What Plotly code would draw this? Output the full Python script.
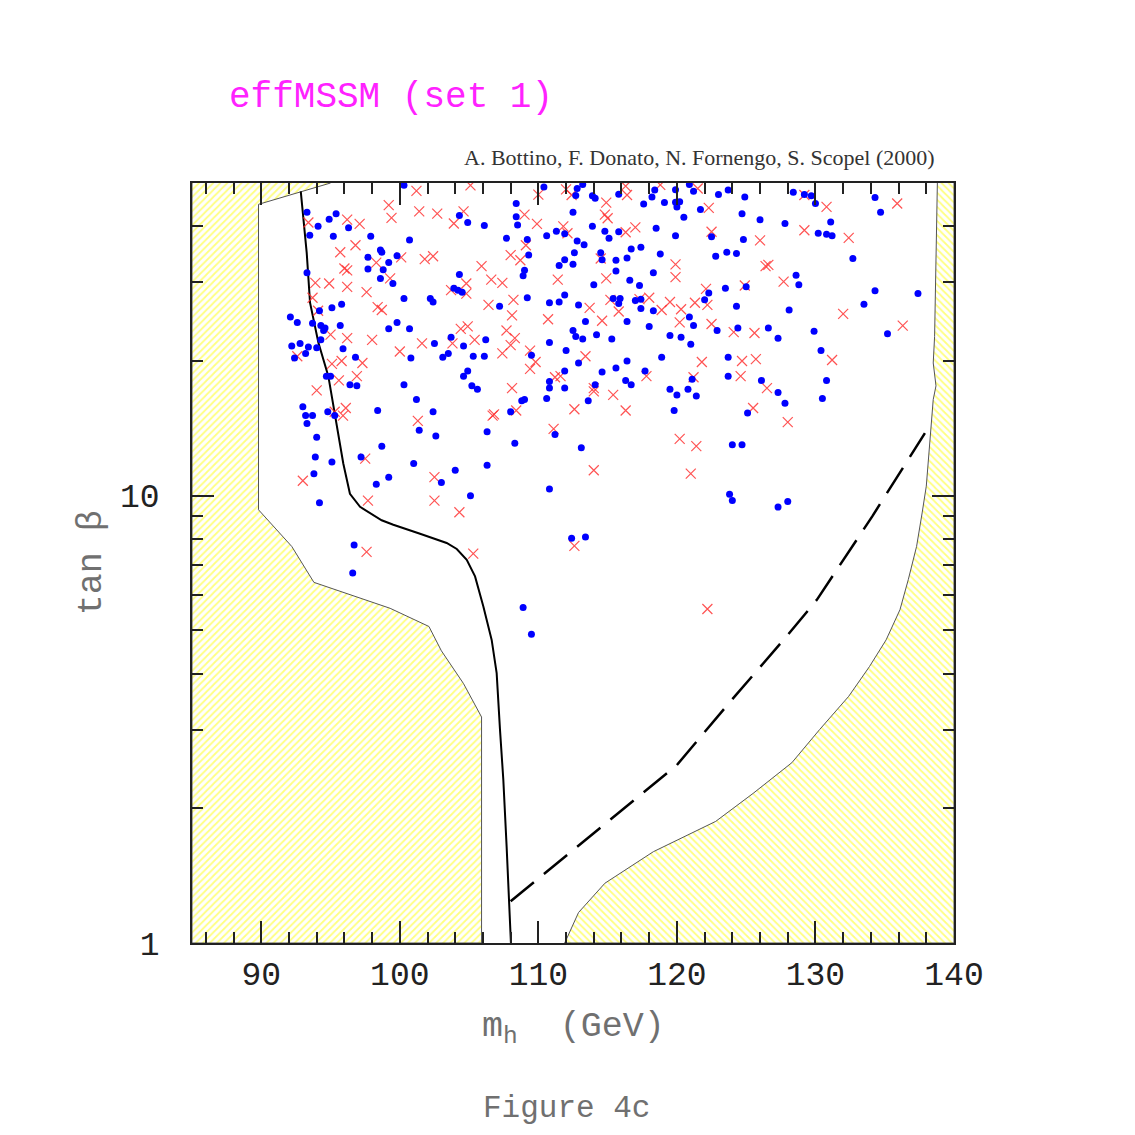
import plotly.graph_objects as go

# ---------------- data ----------------
# excluded region (left, hatched): boundary m_h (GeV), tan beta
left_m = [95.0, 89.8, 89.8, 92.2, 93.8, 99.3, 102.1, 103.0, 104.6, 105.9, 105.9]
left_t = [50.0, 44.8, 9.3, 7.7, 6.4, 5.6, 5.1, 4.5, 3.8, 3.2, 1.0]

# excluded region (right, hatched)
right_m = [138.8, 138.7, 138.6, 138.5, 138.7, 138.5, 138.3, 138.0, 137.7, 137.3, 136.7,
           136.1, 135.1, 133.9, 132.4, 130.3, 128.3, 125.5, 122.8, 118.3, 114.8, 112.9, 111.9]
right_t = [50.0, 30.4, 22.7, 19.8, 17.6, 16.4, 13.6, 10.5, 9.15, 7.70, 6.49,
           5.56, 4.76, 4.15, 3.56, 3.00, 2.53, 2.16, 1.87, 1.60, 1.36, 1.17, 1.0]

# solid curve
solid_m = [92.85, 93.28, 93.52, 94.12, 94.84, 95.44, 95.92, 96.40, 97.13, 98.69, 99.53, 101.46,
           103.38, 104.11, 104.83, 105.43, 106.03, 106.63, 106.99, 107.23, 107.47, 107.71, 108.02]
solid_t = [47.9, 34.9, 27.0, 22.0, 18.5, 14.5, 11.8, 10.1, 9.44, 8.81, 8.61, 8.22,
           7.84, 7.60, 7.19, 6.60, 5.65, 4.76, 4.01, 3.00, 2.32, 1.64, 1.0]

# dashed curve
dash_m = [108.0, 111.6, 120.0, 123.8, 127.9, 130.1, 134.1, 137.9]
dash_t = [1.24, 1.53, 2.50, 3.45, 4.84, 5.85, 8.99, 13.8]

# blue dots
blue_m = [100.3, 93.3, 95.4, 94.9, 94.1, 96.3, 93.5, 95.2, 97.9, 100.7, 104.3, 104.9, 106.1, 98.6, 98.7,
          97.7, 99.8, 99.2, 97.7, 98.8, 98.6, 99.5, 93.3, 104.3, 103.9, 104.2, 104.5, 100.3, 102.2, 102.4,
          95.1, 95.8, 94.2, 92.1, 92.6, 93.7, 94.3, 94.5, 94.6, 95.7, 99.8, 99.2, 100.7, 103.7, 106.2,
          102.5, 104.6, 92.2, 92.8, 93.4, 94.0, 94.3, 95.9, 107.2,
          110.4, 112.8, 113.2, 112.7, 113.9, 114.1, 115.8, 118.4, 118.2, 117.6, 119.1, 119.9, 119.9, 120.2,
          120.0, 120.9, 121.2, 123.0, 121.7, 120.5, 108.4, 108.4, 108.5, 112.5, 107.7, 109.2, 110.6, 111.3,
          111.9, 112.8, 113.3, 113.9, 114.8, 115.1, 115.8, 118.5, 119.9, 122.5, 109.3, 112.6, 114.5, 114.6,
          111.9, 111.5, 112.5, 115.6, 116.4, 116.7, 117.4, 118.8, 122.8, 109.0, 108.9, 115.6, 118.3, 114.0,
          116.6, 117.3, 111.9, 109.2, 110.8, 111.5, 112.9, 115.4, 115.9, 115.8, 117.0, 117.4, 117.4, 118.3,
          122.0, 122.3, 113.4, 116.4, 118.0, 120.9, 121.2, 122.9, 112.5, 112.7, 113.2, 114.2, 115.3, 119.5,
          120.3, 121.0, 110.8,
          123.7, 124.9, 128.4, 129.2, 129.7, 130.0, 134.3, 134.7, 124.7, 126.0, 127.8, 131.1, 130.2, 130.8,
          131.2, 124.8, 123.6, 124.3, 132.7, 128.6, 128.8, 123.5, 125.0, 134.3, 137.4, 124.3, 128.1, 133.5,
          124.4, 126.6, 127.3, 129.9, 135.2,
          92.4, 93.2, 96.8, 100.8, 103.1, 103.5, 105.3, 106.1, 94.7, 95.0, 96.4, 96.9, 100.3, 104.6, 104.9,
          105.2, 105.6, 93.0, 93.2, 93.7, 93.3, 94.8, 95.3, 98.4, 101.2, 102.4, 101.4, 102.6, 106.3, 94.0,
          98.7, 93.9, 95.1, 97.2, 101.0, 104.0, 106.3, 93.8, 99.2, 98.3, 103.0, 105.1, 94.2,
          109.5, 112.0, 112.9, 116.4, 118.9, 114.6, 115.6, 117.7, 111.9, 110.8, 110.8, 111.9, 114.1, 116.3,
          116.7, 121.1, 119.5, 120.0, 120.8, 121.4, 110.6, 108.8, 109.0, 108.0, 113.6, 119.8, 111.2, 108.3,
          113.1, 110.8,
          123.7, 130.4, 123.7, 126.1, 127.3, 127.8, 125.1, 130.8, 130.5, 124.0, 124.7, 123.8, 124.0, 127.3,
          128.0,
          96.7, 96.6, 108.9, 109.5, 112.4, 113.4]
blue_t = [49.4, 43.0, 42.7, 41.5, 40.0, 39.7, 38.2, 38.0, 38.0, 37.3, 42.3, 40.8, 40.2, 35.4, 35.0,
          34.1, 34.4, 33.2, 32.1, 32.0, 30.6, 29.8, 31.5, 31.2, 29.1, 28.8, 28.5, 27.6, 27.6, 27.1,
          26.3, 26.8, 25.9, 25.1, 24.4, 24.3, 24.0, 23.4, 23.7, 24.0, 24.4, 23.6, 23.6, 22.6, 22.3,
          21.9, 21.6, 21.6, 21.9, 21.5, 21.4, 22.3, 21.3, 26.5,
          49.0, 48.6, 49.6, 46.9, 46.8, 46.2, 47.2, 48.2, 46.5, 44.9, 45.2, 48.3, 45.3, 45.4,
          44.2, 49.6, 47.9, 47.1, 43.6, 41.9, 45.0, 42.0, 40.3, 43.0, 37.6, 37.4, 38.1, 39.0,
          38.5, 37.1, 36.4, 40.0, 39.0, 37.6, 38.9, 39.6, 38.1, 37.9, 34.5, 34.9, 34.9, 33.7,
          33.7, 32.7, 32.9, 33.6, 34.0, 35.6, 35.9, 34.7, 34.3, 31.9, 31.0, 31.8, 31.5, 29.6,
          30.3, 29.5, 28.1, 27.7, 27.0, 27.1, 26.7, 27.6, 27.6, 26.9, 27.3, 27.5, 26.2, 25.9,
          27.4, 28.4, 24.5, 24.5, 23.9, 25.1, 24.0, 23.4, 23.4, 22.7, 22.4, 22.9, 22.4, 22.8,
          22.6, 21.8, 22.0,
          48.2, 46.5, 47.7, 47.1, 46.8, 45.0, 46.4, 43.0, 42.7, 41.4, 40.6, 40.9, 38.6, 38.4,
          38.1, 37.4, 35.0, 34.8, 33.9, 31.1, 29.6, 29.1, 29.3, 28.7, 28.3, 26.5, 26.0, 26.8,
          23.7, 23.7, 22.5, 23.3, 23.0,
          20.3, 20.8, 20.4, 20.3, 20.4, 20.8, 20.5, 20.5, 18.5, 18.5, 17.7, 17.6, 17.7, 18.5, 19.0,
          17.6, 17.3, 15.8, 15.1, 15.1, 14.5, 15.4, 15.1, 15.5, 16.4, 15.4, 14.0, 13.6, 13.9, 13.5,
          12.9, 12.2, 11.9, 12.2, 11.8, 11.4, 11.7, 11.2, 11.0, 10.6, 10.7, 10.0, 9.64,
          20.6, 21.1, 19.8, 20.0, 20.4, 18.9, 19.3, 19.0, 19.0, 18.0, 17.4, 17.4, 17.7, 18.1,
          17.7, 18.2, 17.3, 16.8, 17.3, 16.7, 16.5, 16.3, 16.4, 15.4, 16.3, 15.5, 13.7, 13.1,
          12.8, 10.35,
          20.4, 21.1, 18.5, 18.1, 17.0, 16.1, 15.3, 18.1, 16.5, 13.0, 13.0, 10.07, 9.75, 9.43,
          9.71,
          7.76, 6.72, 5.62, 4.90, 8.03, 8.08]

# red crosses
red_m = [101.2, 105.1, 99.2, 101.4, 102.7, 99.4, 104.6, 103.9, 93.4, 96.2, 97.1, 96.8, 95.7, 98.3, 100.1,
         101.8, 102.4, 105.9, 96.0, 96.2, 99.3, 93.9, 94.9, 96.2, 97.6, 106.6, 104.8, 103.7, 104.8, 93.7,
         94.1, 98.4, 98.7, 106.4, 95.0, 96.2, 98.0, 101.6, 103.8, 104.4, 104.9, 105.4,
         110.0, 112.0, 112.4, 116.3, 116.4, 118.8, 121.5, 122.3, 114.9, 114.8, 115.0, 109.0, 109.9, 111.8,
         112.1, 116.3, 117.0, 122.5, 109.1, 108.0, 108.7, 114.5, 119.9, 119.9, 111.4, 114.9, 122.1, 107.4,
         108.2, 108.1, 107.7, 108.3, 108.0, 110.7, 113.7, 114.6, 115.2, 115.8, 117.3, 118.0, 118.9, 119.5,
         120.3, 120.2, 121.3, 122.2, 122.5, 109.4,
         129.2, 130.8, 135.9, 129.2, 126.0, 132.4, 126.6, 126.4, 127.7, 124.9, 132.0, 136.3, 124.1, 125.6,
         92.6, 95.1, 95.8, 97.3, 100.0, 96.9, 95.6, 94.0, 96.1, 95.3, 95.9, 101.3, 106.7, 106.8, 97.5,
         93.0, 102.5, 102.5, 97.7, 104.3,
         107.4, 109.8, 109.4, 113.4, 111.2, 111.6, 108.1, 114.0, 114.0, 115.4, 117.8, 121.2, 121.8, 108.4,
         112.6, 116.3, 111.1, 120.2, 121.4, 114.0, 121.0,
         124.7, 125.7, 124.6, 126.5, 125.5, 128.0, 131.2,
         97.6, 105.3, 112.6, 122.2]
red_t = [48.0, 49.4, 44.6, 43.2, 42.7, 41.8, 43.2, 40.6, 40.8, 41.4, 40.5, 36.3, 35.0, 33.2, 34.1,
         33.8, 34.3, 32.6, 32.2, 31.9, 30.6, 29.9, 29.8, 29.3, 28.5, 30.4, 29.8, 28.8, 28.3, 27.7,
         25.9, 26.4, 26.0, 26.7, 22.9, 22.5, 22.3, 21.9, 21.9, 23.6, 23.9, 22.3,
         47.1, 48.4, 47.0, 49.2, 47.0, 49.5, 48.6, 44.0, 45.2, 42.5, 41.7, 42.5, 40.5, 40.0,
         38.6, 38.8, 39.8, 38.9, 36.3, 34.5, 33.6, 33.9, 32.9, 30.8, 30.4, 30.6, 29.0, 29.9,
         27.4, 25.3, 23.4, 22.5, 21.7, 24.8, 26.3, 24.6, 27.4, 25.8, 27.5, 27.7, 26.0, 27.1,
         26.1, 24.4, 27.0, 26.7, 24.2, 21.1,
         47.0, 44.2, 45.0, 39.2, 37.2, 37.7, 32.8, 32.6, 30.1, 29.5, 25.5, 24.0, 23.2, 23.1,
         20.5, 19.7, 20.0, 19.8, 21.0, 18.5, 18.1, 17.2, 15.7, 15.4, 15.1, 14.7, 15.1, 15.2, 12.1,
         10.8, 11.0, 9.75, 9.75, 9.18,
         20.8, 19.9, 19.2, 20.5, 18.4, 18.5, 17.4, 17.4, 17.1, 16.8, 18.5, 18.4, 19.9, 15.5,
         15.6, 15.5, 14.1, 13.4, 12.9, 11.4, 11.2,
         20.0, 20.2, 18.5, 17.4, 15.7, 14.6, 20.1,
         7.49, 7.42, 7.72, 5.58]

x_major = [90, 100, 110, 120, 130, 140]
x_minor = [86, 88, 92, 94, 96, 98, 102, 104, 106, 108, 112, 114, 116, 118, 122, 124, 126, 128,
           132, 134, 136, 138]
y_major = [1, 10]
y_minor = [2, 3, 4, 5, 6, 7, 8, 9, 20, 30, 40]

X_RANGE = [85, 140]
Y_RANGE = [1, 50]

# ---------------- figure ----------------
fig = go.Figure()

fig.add_trace(go.Scatter(
    x=left_m + [X_RANGE[0], X_RANGE[0]], y=left_t + [Y_RANGE[0], Y_RANGE[1]],
    mode="lines", fill="toself", fillcolor="rgba(0,0,0,0)",
    fillpattern=dict(shape="/", fgcolor="#ffff00", bgcolor="white", size=5, solidity=0.35),
    line=dict(color="#555555", width=1), hoverinfo="skip", showlegend=False))

fig.add_trace(go.Scatter(
    x=right_m + [X_RANGE[1], X_RANGE[1]], y=right_t + [Y_RANGE[0], Y_RANGE[1]],
    mode="lines", fill="toself", fillcolor="rgba(0,0,0,0)",
    fillpattern=dict(shape="\\", fgcolor="#ffff00", bgcolor="white", size=5, solidity=0.35),
    line=dict(color="#555555", width=1), hoverinfo="skip", showlegend=False))

fig.add_trace(go.Scatter(x=solid_m, y=solid_t, mode="lines",
                         line=dict(color="black", width=2), showlegend=False))
fig.add_trace(go.Scatter(x=dash_m, y=dash_t, mode="lines",
                         line=dict(color="black", width=2.5, dash="30px,13px"), showlegend=False))

fig.add_trace(go.Scatter(x=red_m, y=red_t, mode="markers",
                         marker=dict(symbol="x-thin", size=10, line=dict(color="rgba(255,40,40,0.8)", width=1.2)),
                         showlegend=False))
fig.add_trace(go.Scatter(x=blue_m, y=blue_t, mode="markers",
                         marker=dict(symbol="circle", size=7, color="#0000ff", line=dict(width=0)),
                         showlegend=False))

tick_font = dict(family="Liberation Mono", size=33, color="#222222")

fig.update_xaxes(
    range=X_RANGE, showgrid=False, zeroline=False,
    showline=True, linecolor="#222222", linewidth=1.5, mirror="allticks",
    tickmode="array", tickvals=x_major, ticktext=[str(v) for v in x_major],
    ticks="inside", ticklen=22, tickwidth=1.5, tickcolor="#222222",
    minor=dict(tickmode="array", tickvals=x_minor, ticks="inside", ticklen=11,
               tickwidth=1.5, tickcolor="#222222", showgrid=False),
    tickfont=tick_font, ticklabelstandoff=1)

fig.update_yaxes(
    type="log", range=[0, 1.69897], showgrid=False, zeroline=False,
    showline=True, linecolor="#222222", linewidth=1.5, mirror="allticks",
    tickmode="array", tickvals=y_major, ticktext=[str(v) for v in y_major],
    ticks="inside", ticklen=22, tickwidth=1.5, tickcolor="#222222",
    minor=dict(tickmode="array", tickvals=y_minor, ticks="inside", ticklen=11,
               tickwidth=1.5, tickcolor="#222222", showgrid=False),
    tickfont=tick_font, ticklabelstandoff=24)

grey = "#707070"
annotations = [
    dict(text="effMSSM (set 1)", x=0.261, y=1.113, xref="paper", yref="paper",
         showarrow=False, xanchor="center", yanchor="middle",
         font=dict(family="Liberation Mono", size=36, color="#ff22ff")),
    dict(text="A. Bottino, F. Donato, N. Fornengo, S. Scopel (2000)", x=0.978, y=1.033,
         xref="paper", yref="paper", showarrow=False, xanchor="right", yanchor="middle",
         font=dict(family="Liberation Serif", size=22, color="#333333")),
    dict(text="m<sub>h</sub>  (GeV)", x=0.5, y=-0.112, xref="paper", yref="paper",
         showarrow=False, xanchor="center", yanchor="middle",
         font=dict(family="Liberation Mono", size=35, color=grey)),
    dict(text="tan β", x=-0.131, y=0.5, xref="paper", yref="paper", textangle=-90,
         showarrow=False, xanchor="center", yanchor="middle",
         font=dict(family="Liberation Mono", size=35, color=grey)),
    dict(text="Figure 4c", x=0.491, y=-0.218, xref="paper", yref="paper",
         showarrow=False, xanchor="center", yanchor="middle",
         font=dict(family="Liberation Mono", size=31, color=grey)),
]

fig.update_layout(
    width=1119, height=1119, autosize=False,
    margin=dict(l=184, r=173, t=175, b=184),
    paper_bgcolor="white", plot_bgcolor="white",
    annotations=annotations, showlegend=False)

fig.write_html("out.html")
